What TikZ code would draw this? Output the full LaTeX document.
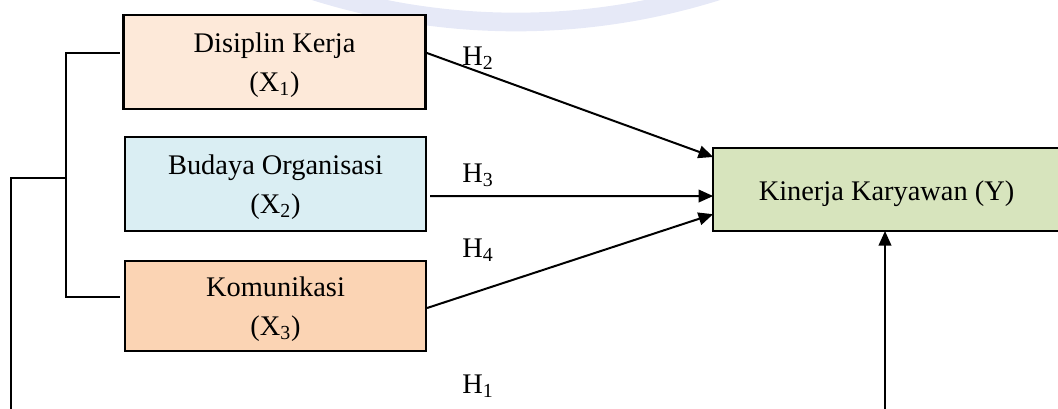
\documentclass[tikz,border=0pt]{standalone}
\usepackage{fontspec}
\setmainfont{Liberation Serif}
\usetikzlibrary{arrows.meta}
\definecolor{cX1}{HTML}{FDE9D9}
\definecolor{cX2}{HTML}{DAEEF3}
\definecolor{cX3}{HTML}{FBD4B4}
\definecolor{cY}{HTML}{D7E4BD}
\definecolor{wm}{HTML}{E6E9F7}
\begin{document}
\begin{tikzpicture}[x=0.75pt,y=-0.75pt,
  box/.style={draw=black,rectangle,inner sep=0pt,outer sep=0pt},
  txt/.style={inner sep=0pt,align=center,font=\fontsize{21.3}{29}\selectfont},
  arr/.style={line width=1.5pt,-{Triangle[length=11pt,width=9.5pt]}},
  brk/.style={line width=1.1pt},
  hlab/.style={anchor=base west,inner sep=0pt,font=\fontsize{21.3}{29}\selectfont}]
\useasboundingbox (0,0) rectangle (1058,408);
% faint watermark arc
\draw[wm,line width=14pt] (516,-650) ++(115:672) arc[start angle=115,end angle=65,radius=672];
% boxes
\node[box,fill=cX1,line width=2.2pt,minimum width=227pt,minimum height=70.5pt] (X1) at (274.5,62) {};
\node[box,fill=cX2,line width=2.2pt,minimum width=225.75pt,minimum height=70.5pt] (X2) at (275.5,184) {};
\node[box,fill=cX3,line width=1.6pt,minimum width=225.75pt,minimum height=67.5pt] (X3) at (275.5,306) {};
\node[box,fill=cY,line width=1.5pt,minimum width=260pt,minimum height=62.25pt] (Y) at (886.5,189.5) {};
% box texts
\node[txt] (tX1) at ([yshift=-2.6pt]X1.center) {Disiplin Kerja\\(X\textsubscript{1})};
\node[txt] (tX2) at ([yshift=-2.6pt]X2.center) {Budaya Organisasi\\(X\textsubscript{2})};
\node[txt] (tX3) at ([yshift=-2.6pt]X3.center) {Komunikasi\\(X\textsubscript{3})};
\node[txt] (tY) at ([yshift=-3pt]Y.center) {Kinerja Karyawan (Y)};
% labels
\node[hlab] (h2) at (462,65) {H\textsubscript{2}};
\node[hlab] (h3) at (462,182) {H\textsubscript{3}};
\node[hlab] (h4) at (462,257) {H\textsubscript{4}};
\node[hlab] (h1) at (462,393) {H\textsubscript{1}};
% arrows
\draw[arr] ([xshift=0.8pt,yshift=6.75pt]X1.east) -- ([yshift=24.4pt]Y.west);
\draw[arr] ([xshift=3pt,yshift=-9pt]X2.east) -- ([yshift=-4.9pt]Y.west);
\draw[arr] ([xshift=0.8pt,yshift=-1.5pt]X3.east) -- ([yshift=-18.5pt]Y.west);
\coordinate (bot) at (885,412);
\draw[arr] (bot) -- (bot |- Y.south);
% bracket
\coordinate (bt) at (66,53);
\coordinate (bb) at (66,297);
\coordinate (bm) at (66,178);
\coordinate (lm) at (11,178);
\coordinate (lb) at (11,412);
\draw[brk] ([xshift=-2.5pt,yshift=6.75pt]X1.west) -- (bt) -- (bb) -- ([xshift=-3.5pt,yshift=6.75pt]X3.west);
\draw[brk] (bm) -- (lm) -- (lb);
\end{tikzpicture}
\end{document}
